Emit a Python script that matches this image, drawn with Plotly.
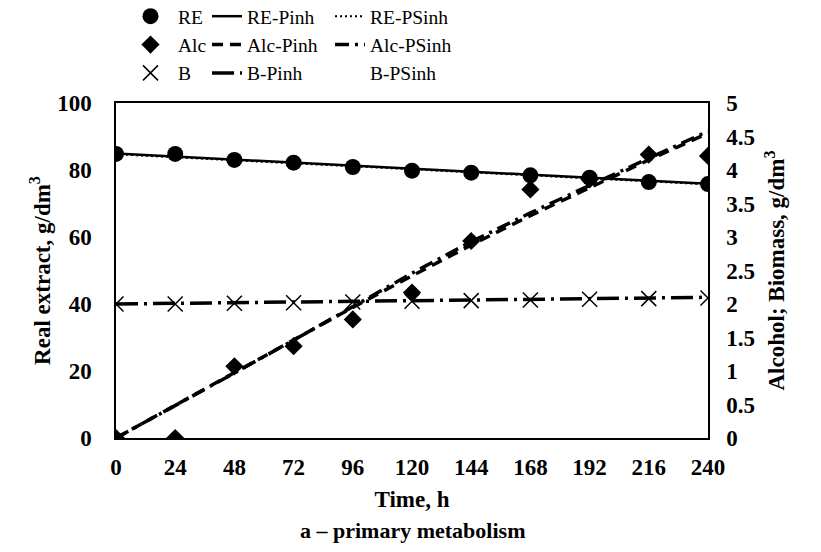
import plotly.graph_objects as go

time_h = [0, 24, 48, 72, 96, 120, 144, 168, 192, 216, 240]

# measured data
re_obs = [84.8, 84.8, 83.0, 82.2, 80.9, 79.8, 79.2, 78.4, 77.7, 76.4, 75.8]
alc_obs = [0.0, 0.0, 1.07, 1.37, 1.77, 2.17, 2.94, 3.71, 3.86, 4.23, 4.21]
b_obs = [2.0, 2.0, 2.01, 2.02, 2.03, 2.04, 2.05, 2.06, 2.07, 2.08, 2.09]

# model curves
re_pinh = [84.9, 84.0, 83.1, 82.2, 81.3, 80.4, 79.5, 78.6, 77.7, 76.8, 75.9]
re_psinh = [84.7, 83.8, 82.9, 82.0, 81.1, 80.2, 79.3, 78.4, 77.5, 76.6, 75.7]
alc_pinh = [0.0, 0.49, 0.98, 1.47, 1.95, 2.42, 2.88, 3.32, 3.74, 4.15, 4.55]
alc_psinh = [0.0, 0.48, 0.97, 1.46, 1.96, 2.46, 2.93, 3.36, 3.77, 4.18, 4.58]
b_pinh = [2.0, 2.01, 2.02, 2.03, 2.04, 2.05, 2.06, 2.07, 2.08, 2.09, 2.1]
b_psinh = [2.0, 2.01, 2.02, 2.03, 2.04, 2.05, 2.06, 2.07, 2.08, 2.09, 2.1]

x_ticks = [0, 24, 48, 72, 96, 120, 144, 168, 192, 216, 240]
y1_ticks = [0, 20, 40, 60, 80, 100]
y2_ticks = [0, 0.5, 1, 1.5, 2, 2.5, 3, 3.5, 4, 4.5, 5]
y2_labels = ["0", "0.5", "1", "1.5", "2", "2.5", "3", "3.5", "4", "4.5", "5"]

SERIF = "Liberation Serif, Times New Roman, serif"
BLACK = "black"

fig = go.Figure()

# --- model lines (drawn first, under markers)
fig.add_trace(go.Scatter(x=time_h, y=re_pinh, mode="lines", name="RE-Pinh", yaxis="y",
                         line=dict(color=BLACK, width=2.5), legend="legend2"))
fig.add_trace(go.Scatter(x=time_h, y=alc_pinh, mode="lines", name="Alc-Pinh", yaxis="y2",
                         line=dict(color=BLACK, width=3.5, dash="11px,7px"), legend="legend2"))
fig.add_trace(go.Scatter(x=time_h, y=b_pinh, mode="lines", name="B-Pinh", yaxis="y2",
                         line=dict(color=BLACK, width=3.5, dash="22px,6px,3px,6px"), legend="legend2"))
fig.add_trace(go.Scatter(x=time_h, y=re_psinh, mode="lines", name="RE-PSinh", yaxis="y",
                         line=dict(color=BLACK, width=2, dash="2px,3px"), legend="legend3"))
fig.add_trace(go.Scatter(x=time_h, y=alc_psinh, mode="lines", name="Alc-PSinh", yaxis="y2",
                         line=dict(color=BLACK, width=3.5, dash="14px,6px,3px,6px"), legend="legend3"))
fig.add_trace(go.Scatter(x=time_h, y=b_psinh, mode="lines", name="B-PSinh", yaxis="y2",
                         line=dict(color="rgba(0,0,0,0)", width=2), legend="legend3"))

# --- observed markers
fig.add_trace(go.Scatter(x=time_h, y=re_obs, mode="markers", name="RE", yaxis="y",
                         marker=dict(symbol="circle", size=16, color=BLACK), legend="legend"))
fig.add_trace(go.Scatter(x=time_h, y=alc_obs, mode="markers", name="Alc", yaxis="y2",
                         marker=dict(symbol="diamond", size=14, color=BLACK), legend="legend"))
fig.add_trace(go.Scatter(x=time_h, y=b_obs, mode="markers", name="B", yaxis="y2",
                         marker=dict(symbol="x-thin", size=15, color=BLACK,
                                     line=dict(color=BLACK, width=1.5)), legend="legend"))

tickfont = dict(family=SERIF, size=23, color=BLACK)
titlefont = dict(family=SERIF, size=23, color=BLACK)
legfont = dict(family=SERIF, size=19.5, color=BLACK)

PL, PR, PT, PB = 116, 708, 103, 438

def leg(xpx, iw=30):
    return dict(xref="paper", yref="paper", x=(xpx - PL) / (PR - PL), y=(PB + 3) / (PB - PT),
                xanchor="left", yanchor="top", font=legfont, bgcolor="rgba(0,0,0,0)",
                borderwidth=0, tracegroupgap=0, itemwidth=iw)

fig.update_layout(
    width=821, height=552,
    margin=dict(l=PL, r=821 - PR, t=PT, b=552 - PB, autoexpand=False),
    paper_bgcolor="white", plot_bgcolor="white",
    showlegend=True,
    legend=leg(123, 45),
    legend2=leg(207),
    legend3=leg(330),
    xaxis=dict(range=[0, 240], tickvals=x_ticks, ticktext=["<b>%d</b>" % v for v in x_ticks],
               showgrid=False, zeroline=False, showline=True, linecolor=BLACK, linewidth=1.5,
               mirror=True, ticks="", tickfont=tickfont, ticklabelstandoff=8,
               title=dict(text="<b>Time, h</b>", font=titlefont, standoff=12)),
    yaxis=dict(range=[0, 100], tickvals=y1_ticks, ticktext=["<b>%d</b>" % v for v in y1_ticks],
               showgrid=False, zeroline=False, showline=True, linecolor=BLACK, linewidth=1.5,
               ticks="", tickfont=tickfont, ticklabelstandoff=18,
               title=dict(text="<b>Real extract, g/dm<sup>3</sup></b>", font=titlefont, standoff=0)),
    yaxis2=dict(range=[0, 5], tickvals=y2_ticks, ticktext=["<b>%s</b>" % t for t in y2_labels],
                overlaying="y", side="right",
                showgrid=False, zeroline=False, showline=True, linecolor=BLACK, linewidth=1.5,
                ticks="", tickfont=tickfont, ticklabelstandoff=12,
                title=dict(text="<b>Alcohol; Biomass, g/dm<sup>3</sup></b>", font=titlefont, standoff=14)),
    annotations=[dict(text="<b>a – primary metabolism</b>", xref="paper", yref="paper",
                      x=(412 - PL) / (PR - PL), y=(PB - 530) / (PB - PT), xanchor="center", yanchor="middle",
                      showarrow=False, font=dict(family=SERIF, size=22, color=BLACK))],
)

fig.write_html("out.html")
